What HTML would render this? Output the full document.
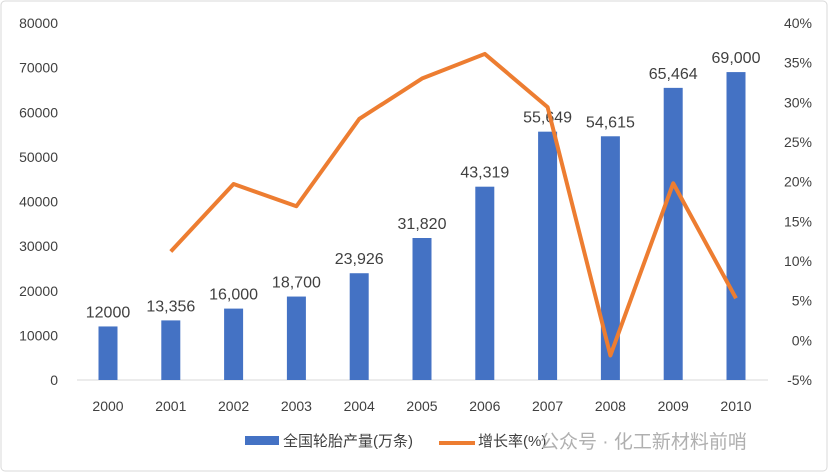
<!DOCTYPE html>
<html><head><meta charset="utf-8"><style>
body{margin:0;background:#fff;}
svg{display:block;font-family:"Liberation Sans","Noto Sans CJK SC",sans-serif;}
</style></head><body>
<svg id="chart" width="830" height="474">
<rect x="1" y="1" width="826" height="470" rx="4" fill="#fff" stroke="#d9d9d9"/>
<g id="g"></g>
</svg>
<script>
const years=["2000","2001","2002","2003","2004","2005","2006","2007","2008","2009","2010"];
const production=[12000,13356,16000,18700,23926,31820,43319,55649,54615,65464,69000];
const prodLabels=["12000","13,356","16,000","18,700","23,926","31,820","43,319","55,649","54,615","65,464","69,000"];
const growth=[null,11.2,19.7,16.9,27.9,33.0,36.1,29.4,-1.9,19.8,5.3];
const leftTicks=[0,10000,20000,30000,40000,50000,60000,70000,80000];
const rightTicks=[-5,0,5,10,15,20,25,30,35,40];
const NS="http://www.w3.org/2000/svg";
const g=document.getElementById('g');
function mk(t,a,txt){const e=document.createElementNS(NS,t);for(const k in a)e.setAttribute(k,a[k]);if(txt!=null)e.textContent=txt;g.appendChild(e);return e;}
const x=i=>108+i*62.8;
const yL=v=>380-v*(357/80000);
const yR=v=>23+(40-v)*(357/45);
for(const t of leftTicks){const e=mk('text',{x:58,y:yL(t)+5,'text-anchor':'end','font-size':14,fill:'#404040'},String(t));

}
for(const t of rightTicks){const e=mk('text',{x:812,y:yR(t)+5,'text-anchor':'end','font-size':14,fill:'#404040'},t+'%');

}
const ax=mk('line',{x1:77,x2:768,y1:380,y2:380,stroke:'#d9d9d9'});


years.forEach((yr,i)=>{
const b=mk('rect',{x:x(i)-9.5,y:yL(production[i]),width:19,height:380-yL(production[i]),fill:'#4472c4'});


const l=mk('text',{x:x(i),y:yL(production[i])-9,'text-anchor':'middle','font-size':16,fill:'#404040'},prodLabels[i]);


const t=mk('text',{x:x(i),y:411,'text-anchor':'middle','font-size':14,fill:'#404040'},yr);


});
const pts=growth.map((v,i)=>v==null?null:x(i)+','+yR(v)).filter(p=>p);
const pl=mk('polyline',{points:pts.join(' '),fill:'none',stroke:'#ed7d31','stroke-width':4,'stroke-linejoin':'round'});


const l1=mk('rect',{x:245,y:436,width:34,height:9,fill:'#4472c4'});


const l2=mk('text',{x:283,y:446,'font-size':15,fill:'#404040'},'全国轮胎产量(万条)');


const l3=mk('line',{x1:439,x2:475,y1:443,y2:443,stroke:'#ed7d31','stroke-width':4});


const l4=mk('text',{x:478,y:446,'font-size':15,fill:'#404040'},'增长率(%)');


const w=mk('text',{x:540,y:448,'font-size':19,fill:'#b0b0b0'},'公众号 · 化工新材料前哨');


</script>
</body></html>
